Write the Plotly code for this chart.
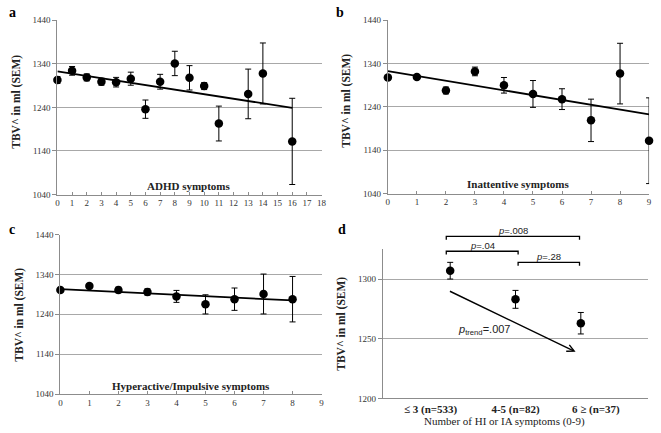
import plotly.graph_objects as go

# ---------------- data ----------------
a_x = [0, 1, 2, 3, 4, 5, 6, 7, 8, 9, 10, 11, 13, 14, 16]
a_y = [1303, 1324, 1309, 1299, 1298, 1306, 1236, 1299, 1341, 1308, 1289, 1203, 1271, 1318, 1162]
a_err = [8, 10, 8, 8, 11, 15, 21, 17, 28, 28, 8, 40, 57, 70, 99]
a_trend_x = [0, 16]
a_trend_y = [1323, 1239]

b_x = [0, 1, 2, 3, 4, 5, 6, 7, 8, 9]
b_y = [1308, 1309, 1278, 1322, 1290, 1270, 1258, 1209, 1317, 1162]
b_err = [5, 5, 8, 10, 18, 31, 24, 49, 70, 99]
b_trend_x = [0, 9]
b_trend_y = [1322.5, 1223]

c_x = [0, 1, 2, 3, 4, 5, 6, 7, 8]
c_y = [1301, 1311, 1301, 1296, 1285, 1265, 1278, 1291, 1278]
c_err = [5, 5, 7, 8, 15, 24, 28, 50, 57]
c_trend_x = [0, 8]
c_trend_y = [1303, 1275]

d_labels = ["≤ 3 (n=533)", "4-5 (n=82)", "6 ≥ (n=37)"]
d_x = [0, 1, 2]
d_y = [1307, 1283, 1263]
d_err = [7, 7.5, 9]
d_pairs = [(0, 1, ".04"), (1, 2, ".28"), (0, 2, ".008")]
d_trend_p = ".007"

y_ticks_abc = [1040, 1140, 1240, 1340, 1440]
y_ticks_d = [1200, 1250, 1300]

panel_titles = ["ADHD symptoms", "Inattentive symptoms", "Hyperactive/Impulsive symptoms"]
y_title = "TBV^ in ml (SEM)"
d_xtitle = "Number of HI or IA symptoms (0-9)"

# ---------------- style ----------------
SERIF = "Liberation Serif, Times New Roman, serif"
SANS = "Liberation Sans, Arial, sans-serif"
GRID = "#a8a8a8"
AXIS = "#8c8c8c"
W, H = 661, 433

fig = go.Figure()


def add_points(x, y, err, xa, ya):
    fig.add_trace(go.Scatter(
        x=x, y=y, mode="markers", xaxis=xa, yaxis=ya,
        marker=dict(color="black", size=8.5),
        error_y=dict(type="data", array=err, color="black", thickness=1, width=3),
        cliponaxis=False, showlegend=False))


def add_trend(x, y, xa, ya):
    fig.add_trace(go.Scatter(
        x=x, y=y, mode="lines", xaxis=xa, yaxis=ya,
        line=dict(color="black", width=1.8), cliponaxis=False, showlegend=False))


add_trend(a_trend_x, a_trend_y, "x", "y")
add_points(a_x, a_y, a_err, "x", "y")
add_trend(b_trend_x, b_trend_y, "x2", "y2")
add_points(b_x, b_y, b_err, "x2", "y2")
add_trend(c_trend_x, c_trend_y, "x3", "y3")
add_points(c_x, c_y, c_err, "x3", "y3")
add_points(d_x, d_y, d_err, "x4", "y4")

# domains (pixel based)
def dx(l, r):
    return [l / W, r / W]

def dy(t, b):
    return [1 - b / H, 1 - t / H]

tickfont = dict(family=SERIF, size=9, color="#333333")

def xaxis(dom, rng, dtick, anchor):
    return dict(domain=dom, range=rng, dtick=dtick, tick0=0, anchor=anchor,
                showgrid=False, zeroline=False, showline=True, linecolor=AXIS, linewidth=1,
                ticks="inside", ticklen=3, tickcolor=AXIS, tickfont=tickfont)

def yaxis(dom, rng, vals, anchor):
    return dict(domain=dom, range=rng, tickvals=vals, anchor=anchor,
                showgrid=True, gridcolor=GRID, gridwidth=1, zeroline=False,
                showline=True, linecolor=AXIS, linewidth=1,
                ticks="outside", ticklen=4, tickcolor=AXIS, tickfont=tickfont)

d_label_pos = [-0.3, 1.0, 2.23]

fig.update_layout(
    width=W, height=H, margin=dict(l=0, r=0, t=0, b=0),
    paper_bgcolor="white", plot_bgcolor="white",
    xaxis=xaxis(dx(56, 323), [0, 18], 1, "y"),
    yaxis=yaxis(dy(15.7, 194), [1040, 1440], y_ticks_abc, "x"),
    xaxis2=xaxis(dx(390, 654), [0, 9], 1, "y2"),
    yaxis2=yaxis(dy(15.7, 193), [1040, 1440], y_ticks_abc, "x2"),
    xaxis3=xaxis(dx(59, 323), [0, 9], 1, "y3"),
    yaxis3=yaxis(dy(235, 398.3), [1040, 1440], y_ticks_abc, "x3"),
    xaxis4=dict(domain=dx(385, 653), range=[-1.03, 3.03], anchor="y4",
                tickvals=d_label_pos, ticktext=["<b>%s</b>" % t for t in d_labels],
                showgrid=False, zeroline=False, showline=True, linecolor=AXIS,
                ticks="", tickfont=dict(family=SERIF, size=11, color="#222222")),
    yaxis4=yaxis(dy(250, 402.7), [1200, 1325], y_ticks_d, "x4"),
)

ann = []
# panel letters
for letter, px, py in [("a", 5, 8), ("b", 336, 8), ("c", 5, 230), ("d", 338, 230)]:
    ann.append(dict(text="<b>%s</b>" % letter, xref="paper", yref="paper",
                    x=px / W, y=1 - py / H, xanchor="left", yanchor="middle",
                    showarrow=False, font=dict(family=SERIF, size=14, color="black")))

# y titles
for i, yy in zip(["", "2", "3", "4"], [0.535, 0.535, 0.5, 0.5]):
    ann.append(dict(text="<b>%s</b>" % y_title, xref="x%s domain" % i, yref="y%s domain" % i,
                    x=0, y=yy, xshift=-41, textangle=-90, showarrow=False,
                    xanchor="center", yanchor="middle",
                    font=dict(family=SERIF, size=11.5, color="#222222")))

# in-plot x titles
for i, t, yy in zip(["", "2", "3"], panel_titles, [0.05, 0.056, 0.05]):
    ann.append(dict(text="<b>%s</b>" % t, xref="x%s domain" % i, yref="y%s domain" % i,
                    x=0.5, y=yy, showarrow=False, xanchor="center", yanchor="middle",
                    font=dict(family=SERIF, size=11, color="#222222")))

# panel d x title
ann.append(dict(text=d_xtitle, xref="x4 domain", yref="y4 domain", x=0.5, y=0,
                xshift=-11, yshift=-23, showarrow=False, xanchor="center", yanchor="middle",
                font=dict(family=SERIF, size=11, color="#222222")))

# brackets for panel d (in y4 domain units so they can sit above the plot)
def yd(v):
    return (v - 1200) / 125.0

bracket_levels = {(0, 1): 1323.3, (1, 2): 1314.0, (0, 2): 1335.8}
shapes = []
for i, j, p in d_pairs:
    top = bracket_levels[(i, j)]
    x0 = i - 0.06 if i == 0 else i + 0.04
    x1 = j - 0.02 if j == 2 else j + 0.04
    shapes.append(dict(type="path", xref="x4", yref="y4 domain",
                       path="M %f,%f L %f,%f L %f,%f L %f,%f" % (
                           x0, yd(top - 2.8), x0, yd(top), x1, yd(top), x1, yd(top - 2.8)),
                       line=dict(color="black", width=1.3)))
    ann.append(dict(text="<i>p</i>=%s" % p, xref="x4", yref="y4 domain",
                    x=(x0 + x1) / 2, y=yd(top), yshift=6, showarrow=False,
                    xanchor="center", yanchor="middle",
                    font=dict(family=SANS, size=9.5, color="#222222")))

# trend arrow
ann.append(dict(x=1.92, y=1239, ax=-0.05, ay=1291, xref="x4", yref="y4", axref="x4", ayref="y4",
                showarrow=True, arrowhead=5, arrowsize=1, arrowwidth=1.4, arrowcolor="black",
                text=" "))
ann.append(dict(text="<i>p</i><sub>trend</sub>=%s" % d_trend_p, xref="x4", yref="y4",
                x=0.52, y=1257.3, showarrow=False, xanchor="center", yanchor="middle",
                font=dict(family=SANS, size=11, color="#222222")))

fig.update_layout(annotations=ann, shapes=shapes)
fig.write_html("out.html", config={"displayModeBar": False},
               post_script="document.body.style.margin='0px';document.body.style.overflow='hidden';")
